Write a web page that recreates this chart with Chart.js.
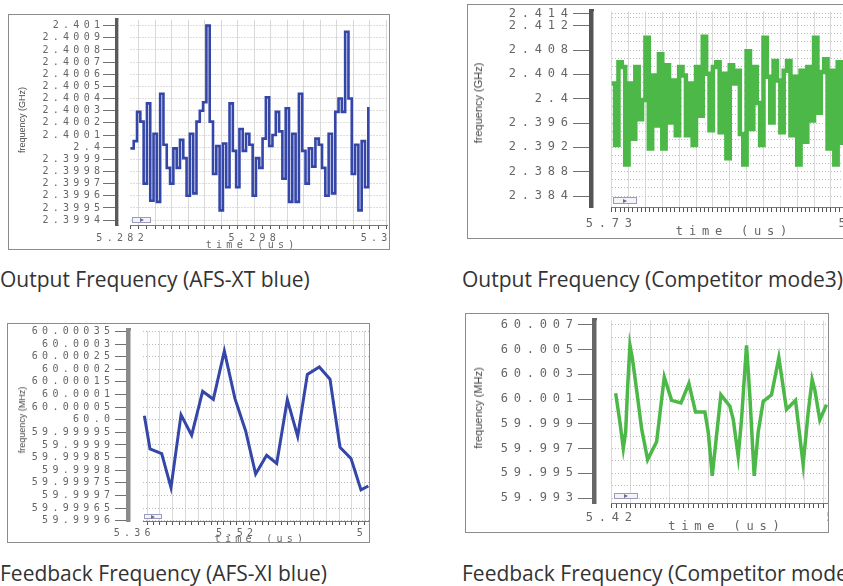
<!DOCTYPE html>
<html>
<head>
<meta charset="utf-8">
<script src="https://cdn.jsdelivr.net/npm/chart.js@4.4.1/dist/chart.umd.min.js"></script>
<style>
  html, body { margin: 0; padding: 0; background: #fff; }
  body { position: relative; width: 843px; height: 586px; overflow: hidden; }
  .frame { position: absolute; border: 1px solid #8c8c8c; overflow: hidden; background: #fff; }
  .frame canvas { position: absolute; left: 0; top: 0; }
  .ytitle { position: absolute; white-space: nowrap; color: #444; font-family: 'Liberation Sans', sans-serif;
            transform: translate(-50%, -50%) rotate(-90deg); }
  .btn { position: absolute; box-sizing: border-box; border: 1px solid #9b9bbd; background: #f3f3f8; }
  .btn::after { content: ''; position: absolute; left: 40%; top: 50%; margin-top: -2px;
                border-left: 4px solid #6b6b8f; border-top: 2px solid transparent; border-bottom: 2px solid transparent; }
  .caption { position: absolute; white-space: nowrap; font-family: 'Open Sans', sans-serif; font-size: 21px;
             color: #333; line-height: 26px; }
</style>
</head>
<body>

<div class="frame" style="left:8px;top:14px;width:380px;height:234px">
  <canvas id="c1" width="396" height="234"></canvas>
  <div class="ytitle" style="left:13px;top:105px;font-size:9px">frequency (GHz)</div>
  <div class="btn" style="left:123px;top:202px;width:19px;height:6px"></div>
</div>
<div class="caption" style="left:0;top:266px">Output Frequency (AFS-XT blue)</div>

<div class="frame" style="left:467px;top:4px;width:400px;height:233px">
  <canvas id="c2" width="414" height="233"></canvas>
  <div class="ytitle" style="left:10px;top:98px;font-size:11px">frequency (GHz)</div>
  <div class="btn" style="left:145px;top:192px;width:24px;height:7px"></div>
</div>
<div class="caption" style="left:462px;top:266px">Output Frequency (Competitor mode3)</div>

<div class="frame" style="left:7px;top:323px;width:361px;height:218px">
  <canvas id="c3" width="386" height="218"></canvas>
  <div class="ytitle" style="left:14px;top:96px;font-size:9px">frequency (MHz)</div>
  <div class="btn" style="left:136px;top:190px;width:18px;height:5px"></div>
</div>
<div class="caption" style="left:0;top:560px">Feedback Frequency (AFS-XI blue)</div>

<div class="frame" style="left:465px;top:313px;width:362px;height:218px">
  <canvas id="c4" width="394" height="218"></canvas>
  <div class="ytitle" style="left:12px;top:94px;font-size:11px">frequency (MHz)</div>
  <div class="btn" style="left:148px;top:179px;width:24px;height:6px"></div>
</div>
<div class="caption" style="left:462px;top:560px">Feedback Frequency (Competitor mode3)</div>

<script>
// --- output frequency, AFS-XT (GHz), one sample every 0.4 ns
const p1Start = 5.2830, p1Step = 0.0004;
const p1Values = [2.39999, 2.40005, 2.40029, 2.40021, 2.39970, 2.40036, 2.39956, 2.40011, 2.39955, 2.40044,
  2.40002, 2.39983, 2.39970, 2.39999, 2.39983, 2.40006, 2.39991, 2.39960, 2.40011, 2.39962,
  2.40021, 2.40030, 2.40037, 2.40100, 2.40021, 2.39978, 2.40001, 2.39948, 2.40003, 2.39967,
  2.40036, 2.39997, 2.39967, 2.40015, 2.39997, 2.40011, 2.40002, 2.39960, 2.39991, 2.39983,
  2.40007, 2.40041, 2.40001, 2.40010, 2.40029, 2.40013, 2.39974, 2.40032, 2.39955, 2.40011,
  2.39955, 2.40044, 2.39997, 2.39970, 2.39999, 2.39984, 2.40007, 2.40002, 2.39983, 2.39960,
  2.40011, 2.39962, 2.40029, 2.40040, 2.40029, 2.40095, 2.40040, 2.39978, 2.40002, 2.39948,
  2.40005, 2.39967, 2.40033];
const p1YTicks = [2.3994, 2.3995, 2.3996, 2.3997, 2.3998, 2.3999, 2.4, 2.4001, 2.4002, 2.4003,
  2.4004, 2.4005, 2.4006, 2.4007, 2.4008, 2.4009, 2.401];
const p1XLabels = [5.282, 5.298, 5.314];

// --- output frequency, competitor (GHz)
const p2Start = 5.7300, p2Step = 0.0004;
const p2Values = [2.4025, 2.3924, 2.4060, 2.4052, 2.3892, 2.4025, 2.3934, 2.4052, 2.3966, 2.3998,
  2.4100, 2.3918, 2.4038, 2.3956, 2.4073, 2.3918, 2.4055, 2.3961, 2.4030, 2.3940,
  2.4052, 2.4038, 2.3940, 2.4025, 2.3924, 2.4052, 2.3972, 2.4102, 2.4041, 2.3948,
  2.4052, 2.4060, 2.3945, 2.4041, 2.3902, 2.4055, 2.4025, 2.4046, 2.3942, 2.3892,
  2.4078, 2.3950, 2.4052, 2.3993, 2.3924, 2.4100, 2.4036, 2.3961, 2.4062, 2.4030,
  2.3945, 2.4046, 2.4062, 2.3940, 2.4036, 2.3892, 2.4046, 2.3929, 2.4052, 2.3964,
  2.4100, 2.3977, 2.4044, 2.4065, 2.3918, 2.4046, 2.3892, 2.4060, 2.3924];
const p2YTicks = [2.384, 2.388, 2.392, 2.396, 2.4, 2.404, 2.408, 2.412, 2.414];
const p2XLabels = [5.73, 5.76];

// --- feedback frequency, AFS-XI (MHz)
const p3Times = [5.3757, 5.3845, 5.4028, 5.4173, 5.4330, 5.4496, 5.4668, 5.4835, 5.5007, 5.5173,
  5.5340, 5.5496, 5.5668, 5.5825, 5.5991, 5.6153, 5.6304, 5.6491, 5.6658, 5.6814, 5.6986, 5.7142, 5.7257];
const p3Values = [60.0000155, 59.9998847, 59.9998655, 59.9997309, 60.0000193, 59.9999386, 60.000113,
  60.0000809, 60.0002719, 60.0000835, 59.9999553, 59.9997847, 59.9998591, 59.999827, 60.0000796,
  59.9999335, 60.0001796, 60.0002091, 60.0001604, 59.9998912, 59.9998463, 59.9997219, 59.9997373];
const p3YTicks = [59.9996, 59.99965, 59.9997, 59.99975, 59.9998, 59.99985, 59.9999, 59.99995, 60.0,
  60.00005, 60.0001, 60.00015, 60.0002, 60.00025, 60.0003, 60.00035];
const p3XLabels = [5.36, 5.52, 5.74];

// --- feedback frequency, competitor (MHz)
const p4Times = [5.42165, 5.42344, 5.42483, 5.4258, 5.42663, 5.42759, 5.42856, 5.43036, 5.43244, 5.43493,
  5.43866, 5.44184, 5.44488, 5.44876, 5.45207, 5.45484, 5.45871, 5.4601, 5.46176, 5.46356,
  5.46535, 5.46909, 5.47047, 5.47254, 5.47393, 5.476, 5.47739, 5.47918, 5.48084, 5.48292,
  5.48638, 5.48942, 5.4926, 5.49634, 5.49951, 5.50159, 5.50325, 5.50436, 5.50643, 5.5092];
const p4Values = [60.00147, 59.99911, 59.99702, 59.99833, 60.00199, 60.00534, 60.00434, 60.00173, 59.99859, 59.99611,
  59.99755, 60.00277, 60.00089, 60.00068, 60.00225, 59.99995, 59.99995, 59.99833, 59.9948, 59.99807,
  60.00134, 60.00042, 59.99937, 59.99637, 59.99937, 60.00534, 60.00121, 59.9948, 59.99833, 60.00081,
  60.00134, 60.00434, 60.00016, 60.00089, 59.99572, 59.9999, 60.00256, 60.00173, 59.99932, 60.00055];
const p4YTicks = [59.993, 59.995, 59.997, 59.999, 60.001, 60.003, 60.005, 60.007];
const p4XLabels = [5.42, 5.52];

const MONO = "'DejaVu Sans Mono', monospace";

// the waveform viewer spreads its axis text out
const textSpacing = {
  id: 'textSpacing',
  beforeDraw(chart, args, opts) { chart.ctx.letterSpacing = opts.px + 'px'; },
  afterDraw(chart) { chart.ctx.letterSpacing = '0px'; }
};
// blank strip between the y ruler and the plot area
const gapCover = {
  id: 'gapCover',
  beforeDatasetsDraw(chart, args, opts) {
    const {ctx, chartArea} = chart;
    const x0 = chartArea.left + opts.from;
    ctx.save();
    ctx.fillStyle = '#fff';
    ctx.fillRect(x0, chartArea.top, opts.to - x0, chartArea.bottom - chartArea.top + opts.below);
    ctx.restore();
  }
};

const has = (list, v) => list.some(l => Math.abs(l - v) < 1e-9);

function tickList(first, step, max, extra) {
  const out = [];
  for (let i = 0; first + i * step <= max + 1e-9; i++) out.push(+(first + i * step).toFixed(7));
  extra.forEach(v => { if (!has(out, v)) out.push(v); });
  return out.sort((a, b) => a - b);
}

function fmtY(v) {
  let s = String(+v.toFixed(6));
  if (s.indexOf('.') < 0) s += '.0';
  return s;
}

function drawPanel(p) {
  const xTicks = tickList(p.xLabels[0], p.xMinor, p.xMax, p.xLabels);
  const yStep = (p.yLabels[1] - p.yLabels[0]) / p.yDiv;
  const yTicks = tickList(p.yLabels[0], yStep, p.yMax, p.yLabels);
  const isGrid = v => {
    const n = Math.round((v - p.xLabels[0]) / p.xMinor);
    return n % p.xGridEvery === 0 && Math.abs(v - p.xLabels[0] - n * p.xMinor) < 1e-9;
  };

  new Chart(document.getElementById(p.id), {
    type: 'line',
    data: {
      datasets: [{
        data: p.points,
        borderColor: p.color,
        borderWidth: p.lineWidth,
        stepped: p.stepped,
        pointRadius: 0,
        tension: 0,
        fill: false
      }]
    },
    plugins: [textSpacing, gapCover],
    options: {
      responsive: false,
      animation: false,
      events: [],
      layout: { padding: 0, autoPadding: false },
      plugins: {
        legend: { display: false },
        tooltip: { enabled: false },
        textSpacing: { px: p.spacing },
        gapCover: { from: p.ruler / 2, to: p.gapEnd, below: p.xTickLen + 1 }
      },
      scales: {
        x: {
          type: 'linear',
          min: p.xMin,
          max: p.xMax,
          afterBuildTicks: s => { s.ticks = xTicks.map(v => ({ value: v })); },
          afterFit: s => { s.height = p.xAxisH; },
          ticks: {
            autoSkip: false, maxRotation: 0, minRotation: 0,
            padding: p.xPad,
            color: '#666',
            font: { family: MONO, size: p.font },
            callback: v => has(p.xLabels, v) ? String(+v.toFixed(4)) : ''
          },
          grid: {
            color: c => isGrid(c.tick.value) ? '#d9d9d9' : 'rgba(0,0,0,0)',
            tickColor: '#555',
            tickLength: p.xTickLen,
            lineWidth: 1
          },
          border: { display: true, color: '#777', width: 1, dash: [] },
          title: {
            display: true,
            text: 'time (us)',
            color: '#666',
            font: { family: MONO, size: p.font, lineHeight: 1 },
            padding: { top: 0, bottom: p.titlePad }
          }
        },
        y: {
          min: p.yMin,
          max: p.yMax,
          afterBuildTicks: s => { s.ticks = yTicks.map(v => ({ value: v })); },
          afterFit: s => { s.width = p.left; },
          ticks: {
            autoSkip: false,
            padding: p.yPad,
            color: '#666',
            font: { family: MONO, size: p.font },
            callback: v => has(p.yLabels, v) ? fmtY(v) : ''
          },
          grid: {
            color: '#bdbdbd',
            tickColor: c => has(p.yLabels, c.tick.value) ? '#707070' : 'rgba(0,0,0,0)',
            tickLength: p.yTickLen,
            lineWidth: 1
          },
          border: { display: true, color: p.rulerColor, width: p.ruler, dash: [1, 2] }
        }
      }
    }
  });
}

drawPanel({
  id: 'c1', color: '#3446a8', lineWidth: 2.6, stepped: true,
  points: p1Values.map((v, i) => ({ x: p1Start + i * p1Step, y: v })),
  xMin: 5.281375, xMax: 5.314102, xLabels: p1XLabels, xMinor: 0.001, xGridEvery: 2,
  yMin: 2.39936, yMax: 2.4010485, yLabels: p1YTicks, yDiv: 1,
  left: 108, xAxisH: 24, gapEnd: 121, ruler: 3.5, rulerColor: '#5a5a5a',
  font: 10, spacing: 4.3, yTickLen: 14, yPad: -1.3, xTickLen: 4, xPad: 3.5, titlePad: -1
});

drawPanel({
  id: 'c2', color: '#4cb848', lineWidth: 4.5, stepped: true,
  points: p2Values.map((v, i) => ({ x: p2Start + i * p2Step, y: v })),
  xMin: 5.727544, xMax: 5.761579, xLabels: p2XLabels, xMinor: 0.0005, xGridEvery: 4,
  yMin: 2.382192, yMax: 2.414352, yLabels: p2YTicks, yDiv: 3,
  left: 123, xAxisH: 31, gapEnd: 143, ruler: 5, rulerColor: '#555',
  font: 12, spacing: 5.8, yTickLen: 18, yPad: -0.8, xTickLen: 5, xPad: 4.7, titlePad: 0
});

drawPanel({
  id: 'c3', color: '#3446a8', lineWidth: 3, stepped: false,
  points: p3Times.map((t, i) => ({ x: t, y: p3Values[i] })),
  xMin: 5.350156, xMax: 5.765781, xLabels: p3XLabels, xMinor: 0.01, xGridEvery: 2,
  yMin: 59.9995988, yMax: 60.0003527, yLabels: p3YTicks, yDiv: 1,
  left: 120, xAxisH: 21, gapEnd: 135, ruler: 5, rulerColor: '#8a8a8a',
  font: 10, spacing: 4.3, yTickLen: 13, yPad: 0.7, xTickLen: 4, xPad: 2.2, titlePad: -2.3
});

drawPanel({
  id: 'c4', color: '#4cb848', lineWidth: 3.5, stepped: false,
  points: p4Times.map((t, i) => ({ x: t, y: p4Values[i] })),
  xMin: 5.412656, xMax: 5.523029, xLabels: p4XLabels, xMinor: 0.002, xGridEvery: 4,
  yMin: 59.992604, yMax: 60.007349, yLabels: p4YTicks, yDiv: 2,
  left: 128, xAxisH: 29, gapEnd: 145, ruler: 5, rulerColor: '#666',
  font: 12, spacing: 5.8, yTickLen: 16, yPad: -0.8, xTickLen: 5, xPad: 2.7, titlePad: -0.7
});
</script>
</body>
</html>
